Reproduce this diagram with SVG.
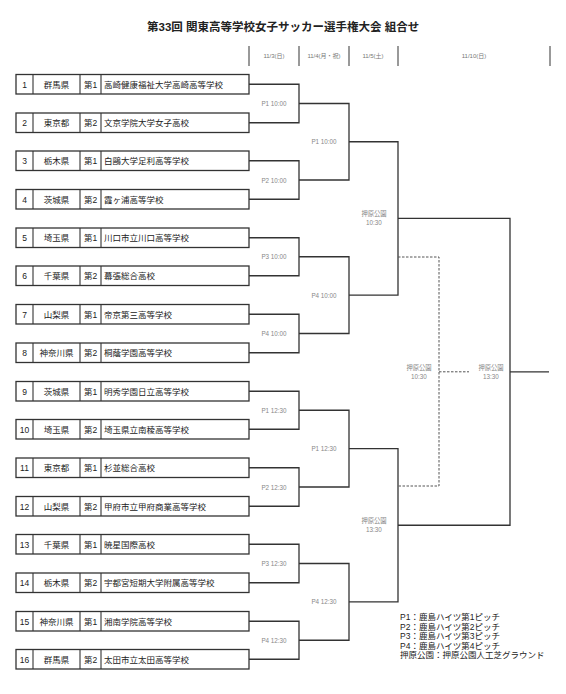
<svg xmlns="http://www.w3.org/2000/svg" width="566" height="694" viewBox="0 0 566 694">
<style>
text{font-family:"Liberation Sans","Noto Sans CJK JP",sans-serif;}
.title{font-size:11.5px;fill:#222;font-weight:bold;}
.hd{font-size:6px;fill:#777;text-anchor:middle;}
.tick{stroke:#555;stroke-width:1.2;}
.box{fill:#fff;stroke:#333;stroke-width:1.3;}
.div{stroke:#333;stroke-width:1.1;}
.t{font-size:8.5px;fill:#222;}
.c{text-anchor:middle;}
.ml{font-size:6.3px;fill:#888;text-anchor:middle;}
.ln{fill:none;stroke:#333;stroke-width:1.3;}
.dash{fill:none;stroke:#555;stroke-width:1;stroke-dasharray:2.5,1.5;}
.lg{font-size:8.5px;fill:#222;}
</style>
<rect width="566" height="694" fill="#fff"/>
<text class="title" x="147" y="31">第33回 関東高等学校女子サッカー選手権大会 組合せ</text>
<g id="header">
<line class="tick" x1="249" y1="46" x2="249" y2="66"/>
<line class="tick" x1="299" y1="46" x2="299" y2="66"/>
<line class="tick" x1="349" y1="46" x2="349" y2="66"/>
<line class="tick" x1="398" y1="46" x2="398" y2="66"/>
<line class="tick" x1="550" y1="46" x2="550" y2="66"/>
<text class="hd" x="274" y="58">11/3(日)</text>
<text class="hd" x="324" y="58">11/4(月・祝)</text>
<text class="hd" x="373" y="58">11/5(土)</text>
<text class="hd" x="474" y="58">11/10(日)</text>
</g>
<defs>
<g id="rowframe">
<rect class="box" x="16" y="0" width="233" height="19.5"/>
<line class="div" x1="33" y1="0" x2="33" y2="19.5"/>
<line class="div" x1="80" y1="0" x2="80" y2="19.5"/>
<line class="div" x1="101" y1="0" x2="101" y2="19.5"/>
</g>
</defs>
<g id="team1" transform="translate(0,74.5)"><use href="#rowframe"/><text class="t c" x="24.5" y="13">1</text><text class="t c" x="56.5" y="13">群馬県</text><text class="t c" x="90.5" y="13">第1</text><text class="t" x="104" y="13">高崎健康福祉大学高崎高等学校</text></g>
<g id="team2" transform="translate(0,113)"><use href="#rowframe"/><text class="t c" x="24.5" y="13">2</text><text class="t c" x="56.5" y="13">東京都</text><text class="t c" x="90.5" y="13">第2</text><text class="t" x="104" y="13">文京学院大学女子高校</text></g>
<g id="team3" transform="translate(0,151)"><use href="#rowframe"/><text class="t c" x="24.5" y="13">3</text><text class="t c" x="56.5" y="13">栃木県</text><text class="t c" x="90.5" y="13">第1</text><text class="t" x="104" y="13">白鷗大学足利高等学校</text></g>
<g id="team4" transform="translate(0,189.5)"><use href="#rowframe"/><text class="t c" x="24.5" y="13">4</text><text class="t c" x="56.5" y="13">茨城県</text><text class="t c" x="90.5" y="13">第2</text><text class="t" x="104" y="13">霞ヶ浦高等学校</text></g>
<g id="team5" transform="translate(0,228)"><use href="#rowframe"/><text class="t c" x="24.5" y="13">5</text><text class="t c" x="56.5" y="13">埼玉県</text><text class="t c" x="90.5" y="13">第1</text><text class="t" x="104" y="13">川口市立川口高等学校</text></g>
<g id="team6" transform="translate(0,266)"><use href="#rowframe"/><text class="t c" x="24.5" y="13">6</text><text class="t c" x="56.5" y="13">千葉県</text><text class="t c" x="90.5" y="13">第2</text><text class="t" x="104" y="13">幕張総合高校</text></g>
<g id="team7" transform="translate(0,304.5)"><use href="#rowframe"/><text class="t c" x="24.5" y="13">7</text><text class="t c" x="56.5" y="13">山梨県</text><text class="t c" x="90.5" y="13">第1</text><text class="t" x="104" y="13">帝京第三高等学校</text></g>
<g id="team8" transform="translate(0,343)"><use href="#rowframe"/><text class="t c" x="24.5" y="13">8</text><text class="t c" x="56.5" y="13">神奈川県</text><text class="t c" x="90.5" y="13">第2</text><text class="t" x="104" y="13">桐蔭学園高等学校</text></g>
<g id="team9" transform="translate(0,381.5)"><use href="#rowframe"/><text class="t c" x="24.5" y="13">9</text><text class="t c" x="56.5" y="13">茨城県</text><text class="t c" x="90.5" y="13">第1</text><text class="t" x="104" y="13">明秀学園日立高等学校</text></g>
<g id="team10" transform="translate(0,419.5)"><use href="#rowframe"/><text class="t c" x="24.5" y="13">10</text><text class="t c" x="56.5" y="13">埼玉県</text><text class="t c" x="90.5" y="13">第2</text><text class="t" x="104" y="13">埼玉県立南稜高等学校</text></g>
<g id="team11" transform="translate(0,458)"><use href="#rowframe"/><text class="t c" x="24.5" y="13">11</text><text class="t c" x="56.5" y="13">東京都</text><text class="t c" x="90.5" y="13">第1</text><text class="t" x="104" y="13">杉並総合高校</text></g>
<g id="team12" transform="translate(0,496.5)"><use href="#rowframe"/><text class="t c" x="24.5" y="13">12</text><text class="t c" x="56.5" y="13">山梨県</text><text class="t c" x="90.5" y="13">第2</text><text class="t" x="104" y="13">甲府市立甲府商業高等学校</text></g>
<g id="team13" transform="translate(0,534.5)"><use href="#rowframe"/><text class="t c" x="24.5" y="13">13</text><text class="t c" x="56.5" y="13">千葉県</text><text class="t c" x="90.5" y="13">第1</text><text class="t" x="104" y="13">暁星国際高校</text></g>
<g id="team14" transform="translate(0,573)"><use href="#rowframe"/><text class="t c" x="24.5" y="13">14</text><text class="t c" x="56.5" y="13">栃木県</text><text class="t c" x="90.5" y="13">第2</text><text class="t" x="104" y="13">宇都宮短期大学附属高等学校</text></g>
<g id="team15" transform="translate(0,611.5)"><use href="#rowframe"/><text class="t c" x="24.5" y="13">15</text><text class="t c" x="56.5" y="13">神奈川県</text><text class="t c" x="90.5" y="13">第1</text><text class="t" x="104" y="13">湘南学院高等学校</text></g>
<g id="team16" transform="translate(0,649.5)"><use href="#rowframe"/><text class="t c" x="24.5" y="13">16</text><text class="t c" x="56.5" y="13">群馬県</text><text class="t c" x="90.5" y="13">第2</text><text class="t" x="104" y="13">太田市立太田高等学校</text></g>
<g id="connectors">
<path class="ln" d="M249,84.25H299V122.75H249"/>
<path class="ln" d="M249,160.75H299V199.25H249"/>
<path class="ln" d="M249,237.75H299V275.75H249"/>
<path class="ln" d="M249,314.25H299V352.75H249"/>
<path class="ln" d="M249,391.25H299V429.25H249"/>
<path class="ln" d="M249,467.75H299V506.25H249"/>
<path class="ln" d="M249,544.25H299V582.75H249"/>
<path class="ln" d="M249,621.25H299V659.25H249"/>
<path class="ln" d="M299,103.5H349V180H299"/>
<path class="ln" d="M299,256.75H349V333.5H299"/>
<path class="ln" d="M299,410.25H349V487H299"/>
<path class="ln" d="M299,563.5H349V640.25H299"/>
<path class="ln" d="M349,141.75H398V295.1H349"/>
<path class="ln" d="M349,448.6H398V601.9H349"/>
<path class="ln" d="M398,218.4H510V525.25H398"/>
<path class="ln" d="M510,371.8H549"/>
<path class="dash" d="M398,257H439V486H398"/>
<path class="dash" d="M439,371.8H469"/>
</g>
<g id="matches">
<text class="ml" x="274" y="106">P1 10:00</text>
<text class="ml" x="274" y="182.5">P2 10:00</text>
<text class="ml" x="274" y="259">P3 10:00</text>
<text class="ml" x="274" y="336">P4 10:00</text>
<text class="ml" x="274" y="412.5">P1 12:30</text>
<text class="ml" x="274" y="489.5">P2 12:30</text>
<text class="ml" x="274" y="566">P3 12:30</text>
<text class="ml" x="274" y="642.5">P4 12:30</text>
<text class="ml" x="324" y="144">P1 10:00</text>
<text class="ml" x="324" y="297.5">P4 10:00</text>
<text class="ml" x="324" y="451">P1 12:30</text>
<text class="ml" x="324" y="604">P4 12:30</text>
<text class="ml" x="374" y="216">押原公園</text>
<text class="ml" x="374" y="225">10:30</text>
<text class="ml" x="374" y="523">押原公園</text>
<text class="ml" x="374" y="532">13:30</text>
<text class="ml" x="419" y="370">押原公園</text>
<text class="ml" x="419" y="379">10:30</text>
<text class="ml" x="491" y="370">押原公園</text>
<text class="ml" x="491" y="379">13:30</text>
</g>
<g id="legend">
<text class="lg" x="400" y="620">P1：鹿島ハイツ第1ピッチ</text>
<text class="lg" x="400" y="629.5">P2：鹿島ハイツ第2ピッチ</text>
<text class="lg" x="400" y="639">P3：鹿島ハイツ第3ピッチ</text>
<text class="lg" x="400" y="648.5">P4：鹿島ハイツ第4ピッチ</text>
<text class="lg" x="400" y="658">押原公園：押原公園人工芝グラウンド</text>
</g>
</svg>
